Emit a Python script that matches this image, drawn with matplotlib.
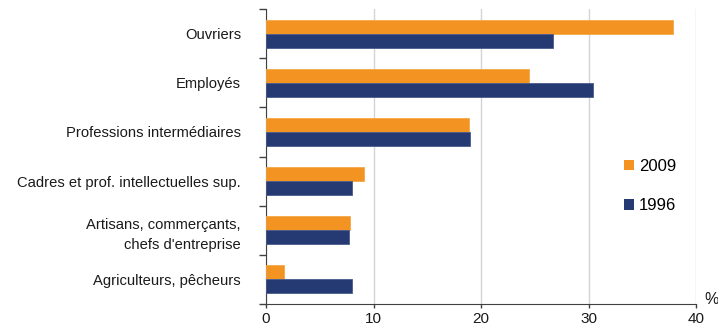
import matplotlib
matplotlib.use("Agg")
import matplotlib.pyplot as plt
import numpy as np
from matplotlib.patches import Patch

categories = [
    "Ouvriers",
    "Employés",
    "Professions intermédiaires",
    "Cadres et prof. intellectuelles sup.",
    "Artisans, commerçants,\nchefs d'entreprise",
    "Agriculteurs, pêcheurs",
]
values_2009 = [37.9, 24.5, 18.9, 9.1, 7.8, 1.7]
values_1996 = [26.7, 30.4, 19.0, 8.0, 7.7, 8.0]
series_labels = ["2009", "1996"]
x_ticks = [0, 10, 20, 30, 40]

orange = "#F39422"
navy = "#253A73"

plt.rcParams["font.family"] = ["Liberation Sans", "DejaVu Sans"]

fig = plt.figure(figsize=(7.18, 3.31), dpi=100)
ax = fig.add_axes([266 / 718, 27 / 331, 430 / 718, 295 / 331])

y = np.arange(len(categories))
h = 0.285

ax.barh(y - h / 2, values_2009, height=h, color=orange, edgecolor="#F5A84A", linewidth=0.6, zorder=3)
ax.barh(y + h / 2, values_1996, height=h, color=navy, edgecolor="#4A5C8C", linewidth=0.6, zorder=3)

ax.set_xlim(0, 40)
ax.set_ylim(len(categories) - 0.5, -0.5)

ax.set_xticks(x_ticks)
ax.set_xticklabels([str(t) for t in x_ticks], fontsize=11, color="#1a1a1a")
ax.set_yticks(y)
ax.set_yticklabels(categories, fontsize=10.6, color="#1a1a1a", ha="right", multialignment="right",
                   linespacing=1.6)
ax.set_yticks(np.arange(-0.5, len(categories)), minor=True)

ax.tick_params(axis="y", which="major", length=0, pad=18)
ax.tick_params(axis="y", which="minor", length=5, width=1, color="#404040", direction="out")
ax.tick_params(axis="x", which="major", length=3, width=1, color="#404040", direction="out", pad=3)

ax.grid(axis="x", color="#D4D4D4", linewidth=1, zorder=0)
for s in ["top", "right"]:
    ax.spines[s].set_visible(False)
ax.spines["left"].set_color("#404040")
ax.spines["bottom"].set_color("#404040")

fig.text(704 / 718, 1 - 300 / 331, "%", fontsize=11.5, ha="left", va="center", color="#1a1a1a")

handles = [Patch(facecolor=orange), Patch(facecolor=navy)]
ax.legend(handles, series_labels, loc="upper left", bbox_to_anchor=(624 / 718, 1 - 159 / 331),
          bbox_transform=fig.transFigure, frameon=False, fontsize=12,
          handlelength=0.6, handleheight=0.6, handletextpad=0.3, labelspacing=1.45,
          borderpad=0, borderaxespad=0)

fig.savefig("out.png", dpi=100)
